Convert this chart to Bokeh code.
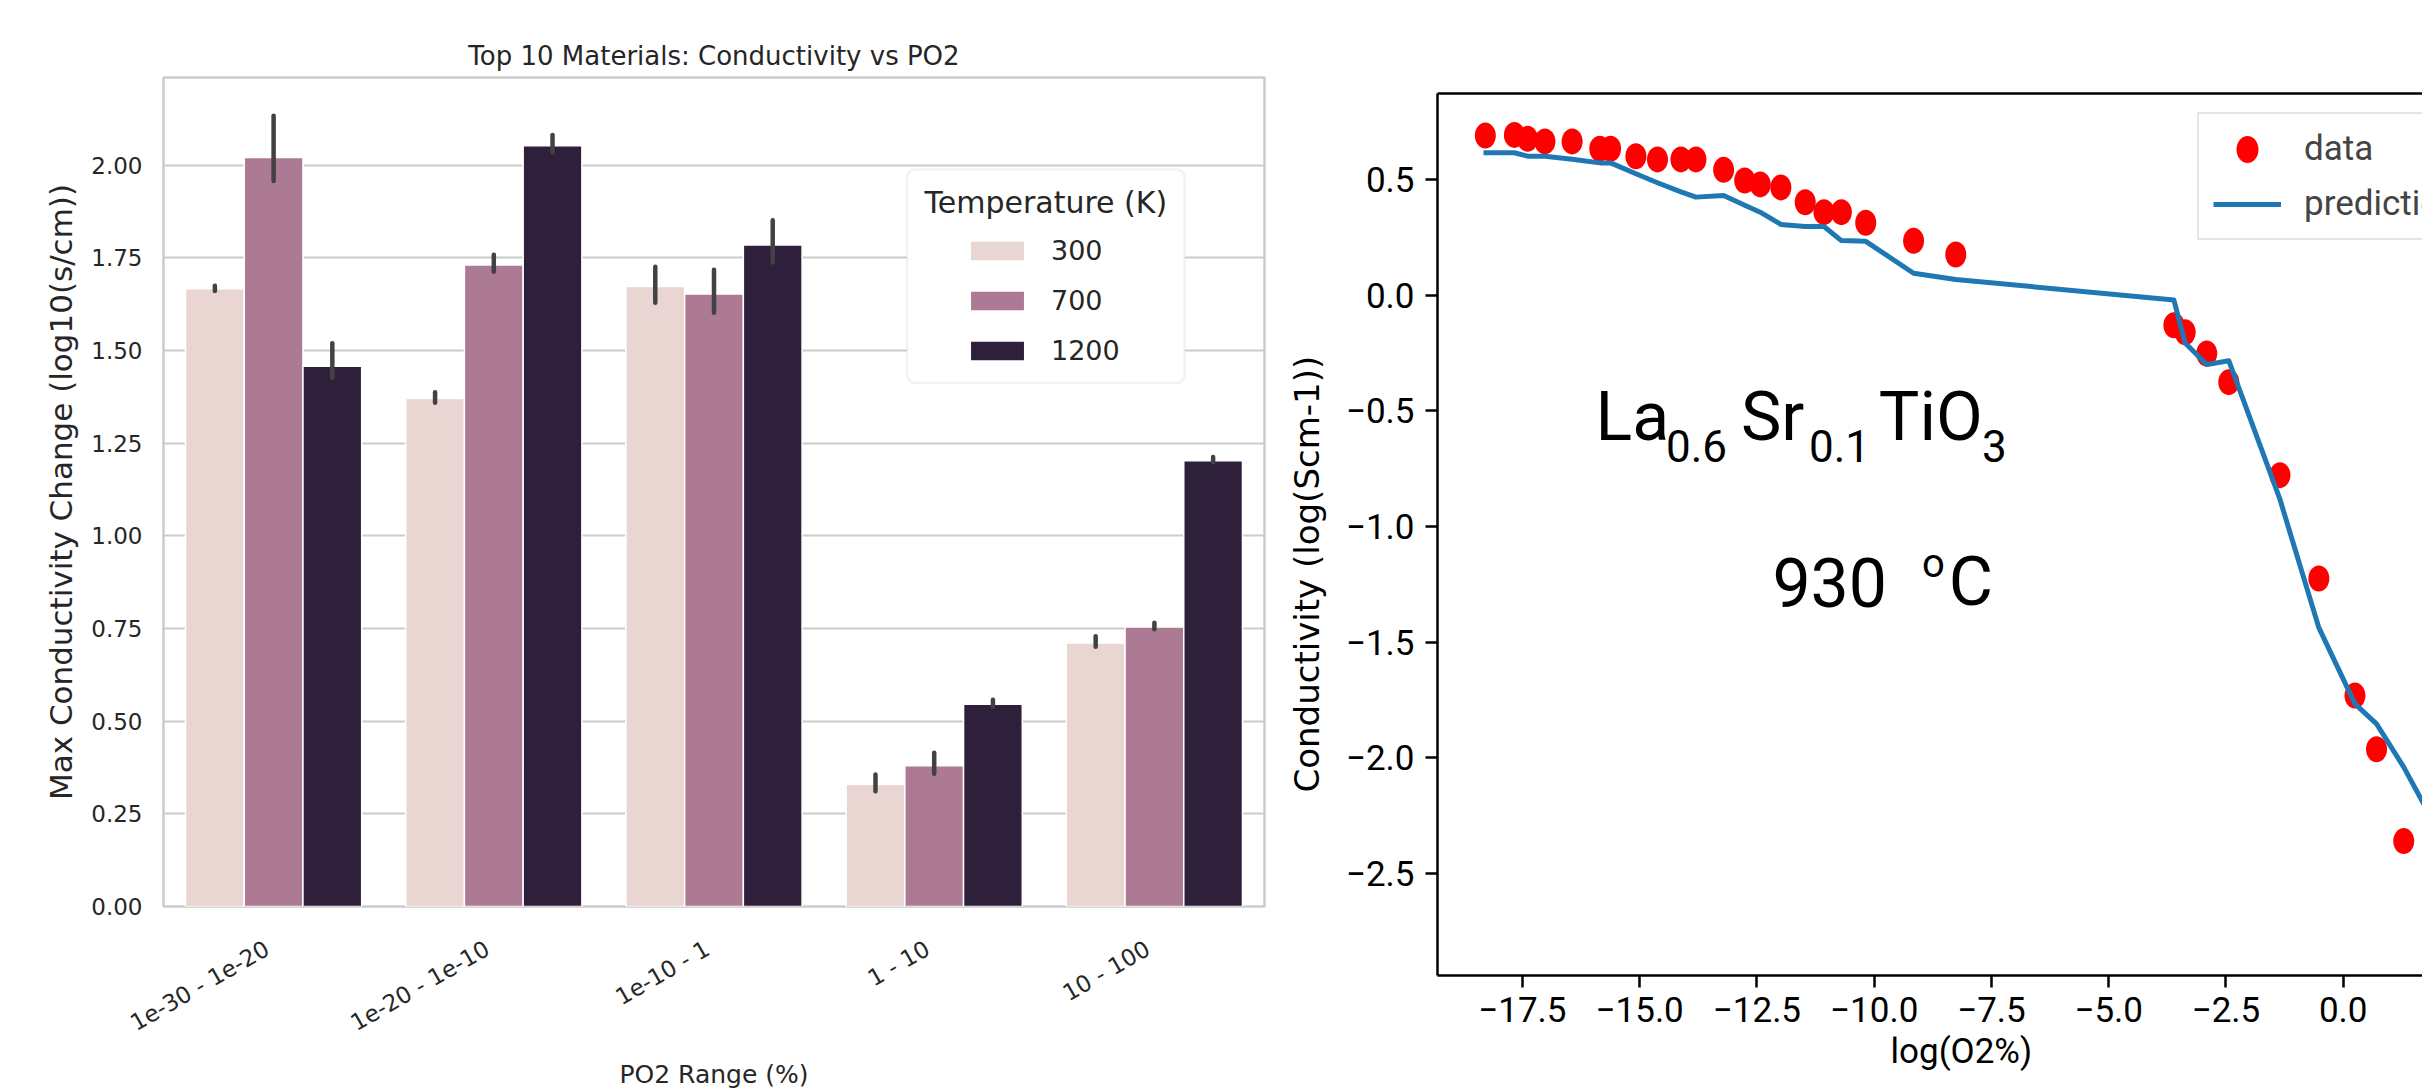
import math

from bokeh.plotting import figure
from bokeh.models import (ColumnDataSource, FactorRange, Range1d, FixedTicker,
                          CustomJSTickFormatter, Legend, LegendItem, BoxAnnotation,
                          Label, LinearAxis, Title)
from bokeh.transform import dodge
from bokeh.core.properties import value
from bokeh.embed import file_html
from bokeh.resources import INLINE

# ---------------- bar chart: max conductivity change per PO2 range ----------------
po2_ranges = ["1e-30 - 1e-20", "1e-20 - 1e-10", "1e-10 - 1", "1 - 10", "10 - 100"]
temperatures = ["300", "700", "1200"]
temp_colors = ["#e9d5d1", "#ac7a93", "#2e1f3b"]

cond_300 = [1.667, 1.371, 1.673, 0.330, 0.711]
cond_700 = [2.021, 1.731, 1.653, 0.380, 0.754]
cond_1200 = [1.458, 2.053, 1.785, 0.546, 1.203]

ci_low_300 = [1.661, 1.359, 1.629, 0.311, 0.701]
ci_high_300 = [1.675, 1.388, 1.726, 0.356, 0.729]
ci_low_700 = [1.958, 1.713, 1.602, 0.358, 0.748]
ci_high_700 = [2.134, 1.759, 1.718, 0.415, 0.766]
ci_low_1200 = [1.427, 2.035, 1.738, 0.539, 1.199]
ci_high_1200 = [1.520, 2.082, 1.852, 0.558, 1.213]

bar_yticks = [0.0, 0.25, 0.5, 0.75, 1.0, 1.25, 1.5, 1.75, 2.0]

# ---------------- conductivity vs oxygen partial pressure ----------------
log_o2 = [-18.29, -17.67, -17.39, -17.02, -16.44, -15.85, -15.62, -15.08, -14.62, -14.12,
          -13.80, -13.21, -12.76, -12.43, -11.99, -11.47, -11.07, -10.70, -10.18, -9.16,
          -8.26, -3.61, -3.37, -2.91, -2.44, -1.35, -0.52, 0.25, 0.71, 1.29]
cond_measured = [0.690, 0.693, 0.676, 0.665, 0.665, 0.633, 0.633, 0.601, 0.587, 0.587,
                 0.587, 0.542, 0.496, 0.479, 0.466, 0.402, 0.359, 0.359, 0.313, 0.235,
                 0.176, -0.130, -0.160, -0.252, -0.376, -0.778, -1.225, -1.731, -1.963, -2.360]

pred_log_o2 = [-18.33, -17.67, -17.39, -17.02, -16.44, -15.85, -15.62, -15.08, -14.62, -14.12,
               -13.80, -13.21, -12.76, -12.43, -11.99, -11.47, -11.07, -10.70, -10.18, -9.16,
               -8.26, -3.61, -3.37, -2.91, -2.44, -1.35, -0.52, 0.25, 0.71, 1.29, 2.20]
cond_predicted = [0.616, 0.616, 0.601, 0.601, 0.588, 0.572, 0.572, 0.525, 0.486, 0.447,
                  0.424, 0.431, 0.389, 0.359, 0.306, 0.297, 0.297, 0.236, 0.233, 0.095,
                  0.068, -0.021, -0.207, -0.300, -0.283, -0.882, -1.437, -1.767, -1.853, -2.040,
                  -2.380]

fit_xticks = [-17.5, -15.0, -12.5, -10.0, -7.5, -5.0, -2.5, 0.0]
fit_yticks = [-2.5, -2.0, -1.5, -1.0, -0.5, 0.0, 0.5]

TXT = "#262626"
SANS = "DejaVu Sans"
FIT_FONT = "Roboto"

BAR_LEFT, BAR_RIGHT, BAR_TOP, BAR_BOTTOM = 163, 4, 77, 185

# ======================= left: grouped bars =======================
bars = figure(width=1268, height=1091,
              x_range=FactorRange(*po2_ranges), y_range=Range1d(0, 2.237),
              output_backend="svg", toolbar_location=None,
              min_border_left=BAR_LEFT, min_border_right=BAR_RIGHT,
              min_border_top=BAR_TOP, min_border_bottom=BAR_BOTTOM,
              title="Top 10 Materials: Conductivity vs PO2")
bars.styles = {"position": "absolute", "left": "0px", "top": "0px"}
bars.title.align = "center"
bars.title.text_font = SANS
bars.title.text_font_size = "26px"
bars.title.text_font_style = "normal"
bars.title.text_color = TXT
bars.title.standoff = 14

src = ColumnDataSource(dict(
    po2=po2_ranges,
    c300=cond_300, c700=cond_700, c1200=cond_1200,
    lo300=ci_low_300, hi300=ci_high_300,
    lo700=ci_low_700, hi700=ci_high_700,
    lo1200=ci_low_1200, hi1200=ci_high_1200,
))

bar_w = 0.8 / len(temperatures)
bar_renderers = []
for k, (t, col) in enumerate(zip(temperatures, temp_colors)):
    off = (k - 1) * bar_w
    r = bars.vbar(x=dodge("po2", off, range=bars.x_range), top="c" + t, width=bar_w,
                  source=src, fill_color=col, line_color="white", line_width=1.5)
    bar_renderers.append(r)
for k, t in enumerate(temperatures):
    off = (k - 1) * bar_w
    bars.segment(x0=dodge("po2", off, range=bars.x_range), y0="lo" + t,
                 x1=dodge("po2", off, range=bars.x_range), y1="hi" + t,
                 source=src, line_color="#424242", line_width=4.5, line_cap="round")

bars.xgrid.visible = False
bars.ygrid.grid_line_color = "#cccccc"
bars.ygrid.grid_line_width = 2
bars.outline_line_color = "#cccccc"
bars.outline_line_width = 2.5
bars.xaxis.visible = False   # category labels are drawn slanted in the strip below

yax = bars.yaxis[0]
yax.axis_line_color = None
yax.major_tick_line_color = None
yax.minor_tick_line_color = None
yax.major_tick_out = 0
yax.major_tick_in = 0
yax.major_label_text_font = SANS
yax.major_label_text_font_size = "23px"
yax.major_label_text_color = TXT
yax.axis_label_text_font = SANS
yax.axis_label_text_font_style = "normal"
yax.axis_label_text_color = TXT
yax.ticker = FixedTicker(ticks=bar_yticks)
yax.formatter = CustomJSTickFormatter(code="return tick.toFixed(2);")
yax.axis_label = "Max Conductivity Change (log10(s/cm))"
yax.axis_label_text_font_size = "31px"
yax.major_label_standoff = 21
yax.axis_label_standoff = 9

# legend frame with a centred title, entries drawn by a borderless legend inside it
bars.add_layout(BoxAnnotation(left=3.377, right=4.637, bottom=1.413, top=1.989,
                              fill_color="white", fill_alpha=1.0,
                              line_color="#d5d5d5", line_width=2.5, border_radius=8))
bars.add_layout(Label(x=4.007, y=1.900, text="Temperature (K)", text_align="center",
                      text_baseline="middle", text_font=SANS, text_font_size="30px",
                      text_color=TXT))
bar_legend = Legend(items=[LegendItem(label=t, renderers=[r])
                           for t, r in zip(temperatures, bar_renderers)],
                    location=(800, 540), orientation="vertical", padding=0, margin=0,
                    spacing=19, glyph_width=68, glyph_height=25, label_standoff=20,
                    label_text_font=SANS, label_text_font_size="27px",
                    label_text_color=TXT, border_line_color=None,
                    background_fill_alpha=0)
bars.add_layout(bar_legend)

# ---- strip under the bars: slanted category labels and the x-axis title ----
# same factor scale as the bars (220 px per category), padded out to the left edge
cat_px = (1268 - BAR_LEFT - BAR_RIGHT) / len(po2_ranges)
strip_w = int(round((len(po2_ranges) + 2 * BAR_LEFT / cat_px) * cat_px))
strip = figure(width=strip_w, height=BAR_BOTTOM,
               x_range=FactorRange(*po2_ranges, range_padding=BAR_LEFT / cat_px,
                                   range_padding_units="absolute"),
               y_range=Range1d(-BAR_BOTTOM, 0),
               x_axis_location=None, y_axis_location=None,
               output_backend="svg", toolbar_location=None,
               min_border=0, min_border_left=0, min_border_right=0,
               min_border_top=0, min_border_bottom=0)
strip.styles = {"position": "absolute", "left": "0px", "top": f"{1091 - BAR_BOTTOM}px"}
strip.grid.visible = False
strip.outline_line_color = None
strip.background_fill_color = None
strip.border_fill_color = None
strip.text(x="po2", y=-29, text="po2", source=src, angle=math.pi / 6,
           text_align="right", text_baseline="top", x_offset=-13,
           text_font=value(SANS), text_font_size="23px", text_color=TXT)
strip.add_layout(Label(x=2.5, y=-168, text="PO2 Range (%)", text_align="center",
                       text_baseline="middle", text_font=SANS, text_font_size="25px",
                       text_color=TXT))

# ======================= right: measured vs predicted =======================
fit = figure(width=1154, height=1091,
             x_range=Range1d(-19.31, 1.69), y_range=Range1d(-2.941, 0.872),
             output_backend="svg", toolbar_location=None,
             min_border_left=166, min_border_right=0,
             min_border_top=93, min_border_bottom=116)
fit.styles = {"position": "absolute", "left": "1268px", "top": "0px"}
fit.grid.visible = False
fit.outline_line_color = None

pts = fit.ellipse(x=log_o2, y=cond_measured, width=21, height=26,
                  width_units="screen", height_units="screen",
                  fill_color="#ff0000", line_color=None)
pred = fit.line(pred_log_o2, cond_predicted, line_width=5, line_color="#1f77b4",
                line_join="round")

minus_fmt = "return (tick < 0 ? '\\u2212' : '') + Math.abs(tick).toFixed(1);"
for ax in (fit.xaxis[0], fit.yaxis[0]):
    ax.axis_line_color = "black"
    ax.axis_line_width = 2.5
    ax.major_tick_line_color = "black"
    ax.major_tick_line_width = 2.5
    ax.major_tick_out = 12
    ax.major_tick_in = 0
    ax.minor_tick_line_color = None
    ax.major_label_text_font = FIT_FONT
    ax.major_label_text_font_size = "35px"
    ax.major_label_text_color = "black"
    ax.formatter = CustomJSTickFormatter(code=minus_fmt)

fit.xaxis.ticker = FixedTicker(ticks=fit_xticks)
fit.yaxis.ticker = FixedTicker(ticks=fit_yticks)
fit.xaxis.major_label_standoff = 9
fit.yaxis.major_label_standoff = 11

# axis titles, placed in the side panels next to the tick labels
fit.add_layout(Title(text="Conductivity (log(Scm-1))", align="left", offset=183,
                     standoff=32, vertical_align="bottom", text_font=SANS,
                     text_font_size="34px", text_font_style="normal",
                     text_color="black"), "left")
fit.add_layout(Title(text="log(O2%)", align="left", offset=453, standoff=12,
                     vertical_align="top", text_font=FIT_FONT, text_font_size="35px",
                     text_font_style="normal", text_color="black"), "below")

top_spine = LinearAxis(ticker=FixedTicker(ticks=[]), axis_line_color="black",
                       axis_line_width=2.5, major_tick_out=0, major_tick_in=0,
                       minor_tick_out=0, minor_tick_in=0,
                       major_label_text_font_size="0px")
fit.add_layout(top_spine, "above")

fit_legend = Legend(items=[LegendItem(label="data", renderers=[pts]),
                           LegendItem(label="prediction", renderers=[pred])],
                    location=(760, 735), padding=14, spacing=14, margin=0,
                    glyph_width=68, glyph_height=34, label_standoff=23,
                    label_text_font=FIT_FONT, label_text_font_size="35px",
                    border_line_color="#cccccc", border_line_width=2.5,
                    background_fill_color="white", background_fill_alpha=0.8)
fit.add_layout(fit_legend)


def note(x, y, text, size):
    fit.add_layout(Label(x=x, y=y, text=text, text_font="Roboto",
                         text_font_size=f"{size}px", text_align="left",
                         text_baseline="middle", text_color="black"))


# chemical formula with subscripts, and the measurement temperature
note(-15.94, -0.528, "La", 68)
note(-14.44, -0.650, "0.6", 44)
note(-12.84, -0.528, "Sr", 68)
note(-11.39, -0.650, "0.1", 44)
note(-9.90, -0.528, "TiO", 68)
note(-7.70, -0.650, "3", 44)
note(-12.17, -1.242, "930", 68)
note(-8.98, -1.160, "o", 40)
note(-8.41, -1.242, "C", 68)

with open("out.html", "w") as f:
    f.write(file_html([bars, fit, strip], INLINE, title="Conductivity"))
